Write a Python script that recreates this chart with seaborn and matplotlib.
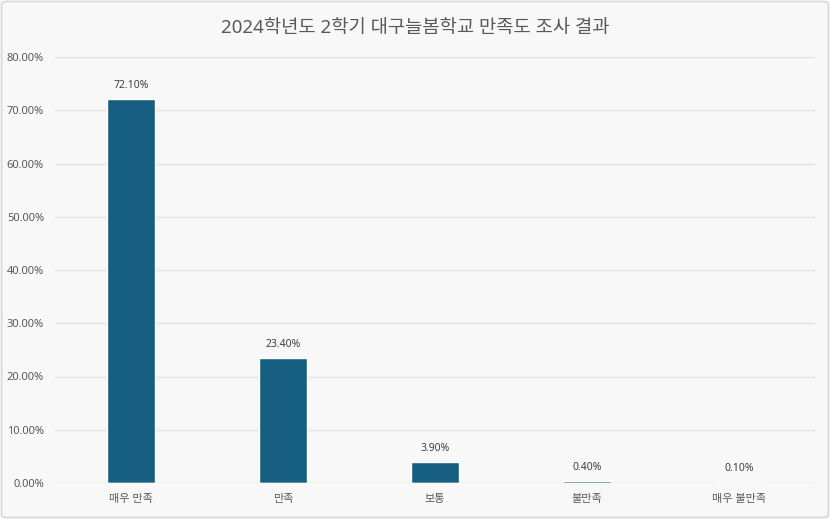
import matplotlib
matplotlib.use("Agg")
import matplotlib.pyplot as plt
import seaborn as sns
import pandas as pd
from matplotlib.patches import FancyBboxPatch
from matplotlib.ticker import FuncFormatter

# --- DATA ---
categories = ["매우 만족", "만족", "보통", "불만족", "매우 불만족"]
percent = [72.10, 23.40, 3.90, 0.40, 0.10]
title = "2024학년도 2학기 대구늘봄학교 만족도 조사 결과"

df = pd.DataFrame({"category": categories, "percent": percent})

sns.set_theme(style="white")
plt.rcParams["font.family"] = ["Noto Sans", "Noto Sans CJK KR", "DejaVu Sans"]

bg = "#f8f8f8"
bar_color = "#175f80"

fig = plt.figure(figsize=(8.3, 5.19), dpi=100, facecolor=bg)
ax = fig.add_axes([55 / 830, 36 / 519, 760 / 830, 426 / 519])
ax.set_facecolor(bg)

sns.barplot(data=df, x="category", y="percent", color=bar_color,
            width=0.315, saturation=1, ax=ax)

ax.set_ylim(0, 80)
ax.set_yticks(range(0, 81, 10))
ax.yaxis.set_major_formatter(FuncFormatter(lambda v, p: f"{v:.2f}%"))
ax.grid(axis="y", color="#e0e0e0", linewidth=0.9)
ax.set_axisbelow(True)
for s in ax.spines.values():
    s.set_visible(False)
ax.axhline(0, color="#dcdcdc", linewidth=1.0, zorder=1)
ax.set_xlabel("")
ax.set_ylabel("")
ax.tick_params(axis="both", length=0, labelsize=8, labelcolor="#595959")
ax.tick_params(axis="y", pad=8)
ax.tick_params(axis="x", pad=8)

# data labels
for i, v in enumerate(percent):
    ax.annotate(f"{v:.2f}%", (i, v), xytext=(0, 6), textcoords="offset points",
                ha="center", va="bottom", fontsize=7.5, color="#404040")

fig.text(0.5, 1 - 28 / 519, title, ha="center", va="center",
         fontsize=13.5, color="#595959")

# outer border
fig.patches.append(FancyBboxPatch((0.002, 0.003), 0.996, 0.994,
                                  boxstyle="round,pad=0,rounding_size=0.006",
                                  transform=fig.transFigure, fill=False,
                                  edgecolor="#d9d9d9", linewidth=1.2))

fig.savefig("out.png", dpi=100, facecolor=bg)
